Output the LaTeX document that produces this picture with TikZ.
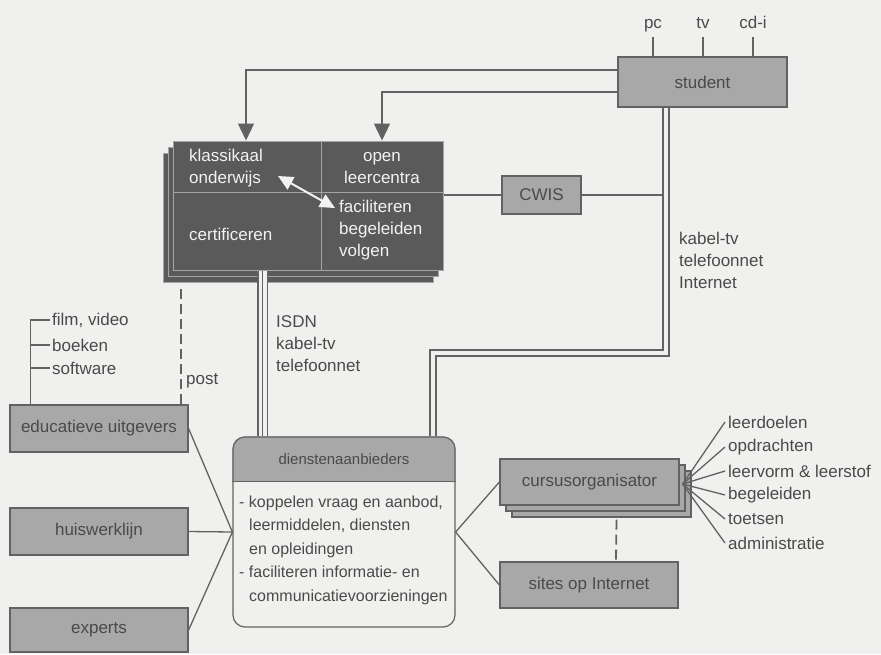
\documentclass[tikz,border=0pt]{standalone}
\usepackage{fontspec}
\setmainfont{Liberation Sans}
\usetikzlibrary{arrows.meta,shadows,backgrounds,calc}

\definecolor{paper}{HTML}{F0F0EE}
\definecolor{boxgray}{HTML}{A8A8A8}
\definecolor{darkbox}{HTML}{5A5A5A}
\definecolor{edge}{HTML}{626262}
\definecolor{ink}{HTML}{4A4A4A}
\definecolor{paleline}{HTML}{A4A4A4}
\definecolor{whiteink}{HTML}{F2F2F2}

\begin{document}
\begin{tikzpicture}[x=1pt,y=-1pt,
  txt/.style={text=ink, font=\fontsize{17}{22}\selectfont, inner sep=0pt},
  wtxt/.style={text=whiteink, font=\fontsize{17}{22}\selectfont, inner sep=0pt, align=left},
  greybox/.style={draw=edge, fill=boxgray, line width=1.2pt, minimum width=178pt, minimum height=47pt, txt},
  mainbox/.style={draw=paleline, fill=darkbox, line width=1pt, minimum width=270pt, minimum height=129pt,
    general shadow={shadow xshift=-10pt, shadow yshift=-12pt, fill=darkbox, draw=paleline, line width=1pt},
    general shadow={shadow xshift=-5pt, shadow yshift=-6pt, fill=darkbox, draw=paleline, line width=1pt}},
  stackbox/.style={greybox, minimum width=179pt, minimum height=46pt,
    general shadow={shadow xshift=12pt, shadow yshift=-12pt, fill=boxgray, draw=edge, line width=1.2pt},
    general shadow={shadow xshift=6pt, shadow yshift=-6pt, fill=boxgray, draw=edge, line width=1.2pt}},
  link/.style={draw=edge, line width=1.3pt},
  divider/.style={draw=paleline, line width=0.9pt},
  postline/.style={draw=edge, line width=1.8pt, dash pattern=on 10pt off 5pt},
  cable/.style={draw=edge, line width=1.9pt, double=paper, double distance=4.6pt},
  wide cable/.style={draw=edge, line width=1.9pt, double=paper, double distance=8pt},
  core/.style={draw=edge, line width=1.9pt},
  arr/.style={link, -{Triangle[length=17pt,width=16pt]}},
  bothway/.style={draw=whiteink, line width=2pt, {Triangle[length=15pt,width=14pt]}-{Triangle[length=15pt,width=14pt]}},
  fanlbl/.style={txt, anchor=west},
]

% page
\begin{scope}[on background layer]
  \fill[paper] (0,0) rectangle (881,654);
\end{scope}

% ---- boxes ----
\node[mainbox] (main) at (308,205.5) {};
\node[greybox, minimum width=169pt, minimum height=50pt] (student) at (702.5,82) {student};
\node[greybox, minimum width=79pt, minimum height=38pt] (cwis) at (541.5,195) {CWIS};
\node[greybox] (educ) at (99,428.5) {educatieve uitgevers};
\node[greybox] (huis) at (99,531.5) {huiswerklijn};
\node[greybox, minimum height=44pt] (experts) at (99,630) {experts};
\node[stackbox] (cursus) at (589.5,482) {cursusorganisator};
\node[greybox, minimum height=46pt] (sites) at (589,585) {sites op Internet};
\node[draw=edge, line width=1.2pt, rounded corners=12pt, minimum width=222pt, minimum height=190pt] (dienst) at (344,532) {};

% header band of the service-provider box
\begin{scope}[on background layer]
  \clip[rounded corners=12pt] (dienst.north west) rectangle (dienst.south east);
  \fill[boxgray] (dienst.north west) rectangle ([yshift=-45pt]dienst.north east);
\end{scope}
\draw[link, line width=1.2pt] ([yshift=-45pt]dienst.north west) -- ([yshift=-45pt]dienst.north east);
\node[txt, font=\fontsize{15}{18}\selectfont] (dtitle) at ([yshift=-22.5pt]dienst.north) {dienstenaanbieders};
\node[txt, font=\fontsize{16}{23.5}\selectfont, align=left, anchor=west] (dbody) at (239,550)
  {- koppelen vraag en aanbod,\\
   \hspace*{10pt}leermiddelen, diensten\\
   \hspace*{10pt}en opleidingen\\
   - faciliteren informatie- en\\
   \hspace*{10pt}communicatievoorzieningen};

% ---- inside the dark box ----
\draw[divider] ([xshift=13pt]main.north) -- ([xshift=13pt]main.south);
\draw[divider] ([yshift=-52pt]main.north west) -- ([yshift=-52pt]main.north east);
\node[wtxt, anchor=west] (klass) at (189,168) {klassikaal\\onderwijs};
\node[wtxt, align=center] (open) at (382,168) {open\\leercentra};
\node[wtxt, anchor=west] (cert) at (189,234) {certificeren};
\node[wtxt, anchor=west] (facil) at (339,230) {faciliteren\\begeleiden\\volgen};
\coordinate (wa) at (278,176);
\coordinate (wb) at (335,208);
\draw[bothway] (wa) -- (wb);

% ---- student and its devices ----
\node[txt, anchor=base] (pc) at (653,28) {pc};
\node[txt, anchor=base] (tv) at (703,28) {tv};
\node[txt, anchor=base] (cdi) at (753,28) {cd-i};
\foreach \d in {pc,tv,cdi}
  \draw[link] ([yshift=-9pt]\d.base) -- (\d.base |- student.north);

\draw[arr] ([yshift=12pt]student.west) -| ([xshift=-62pt]main.north);
\draw[arr] ([yshift=-10pt]student.west) -| ([xshift=74pt]main.north);

% ---- network cables ----
\coordinate (jog) at (433,353);
\draw[cable] ([xshift=-36.5pt]student.south) |- (jog) -- (jog |- dienst.north);
\draw[wide cable] ([xshift=-45.5pt]main.south) -- ([xshift=-45.5pt]main.south |- dienst.north);
\draw[core] ([xshift=-45.5pt]main.south) -- ([xshift=-45.5pt]main.south |- dienst.north);
\coordinate (trunk) at (663,0);

\draw[link] (main.east |- cwis) -- (cwis.west);
\draw[link] (cwis.east) -- (cwis -| trunk);

\node[txt, align=left, anchor=west] (netA) at (679,260) {kabel-tv\\telefoonnet\\Internet};
\node[txt, align=left, anchor=west] (netB) at (276,344) {ISDN\\kabel-tv\\telefoonnet};

% ---- post ----
\draw[postline] ([xshift=-8pt]educ.north east) -- ([xshift=-8pt,yshift=-15pt]main.south -| educ.north east);
\node[txt, anchor=west] (post) at (186,381) {post};

% ---- publisher media ----
\node[txt, anchor=west] (film) at (52,320) {film, video};
\node[txt, anchor=west] (boeken) at (52,345) {boeken};
\node[txt, anchor=west] (soft) at (52,368) {software};
\coordinate (brk) at ([xshift=21pt]educ.north west);
\draw[link] ([xshift=-2pt]film.west) -| (brk);
\draw[link] ([xshift=-2pt]boeken.west) -- (boeken.west -| brk);
\draw[link] ([xshift=-2pt]soft.west) -- (soft.west -| brk);

% ---- providers to the service box ----
\draw[link] (educ.east) -- (dienst.west);
\draw[link] (huis.east) -- (dienst.west);
\draw[link] (experts.east) -- (dienst.west);
\draw[link] (dienst.east) -- (cursus.west);
\draw[link] (dienst.east) -- (sites.west);
\draw[postline] ([xshift=27pt,yshift=-14pt]cursus.south) -- ([xshift=27pt]sites.north);

% ---- course organiser tasks ----
\node[fanlbl] (t1) at (728,422) {leerdoelen};
\node[fanlbl] (t2) at (728,447) {opdrachten};
\node[fanlbl] (t3) at (728,471) {leervorm \& leerstof};
\node[fanlbl] (t4) at (728,495) {begeleiden};
\node[fanlbl] (t5) at (728,519) {toetsen};
\node[fanlbl] (t6) at (728,543) {administratie};
\coordinate (fan) at ([xshift=3pt,yshift=-2pt]cursus.east);
\foreach \t in {t1,t2,t3,t4,t5,t6}
  \draw[link] (fan) -- ([xshift=-3pt]\t.west);

\end{tikzpicture}
\end{document}
